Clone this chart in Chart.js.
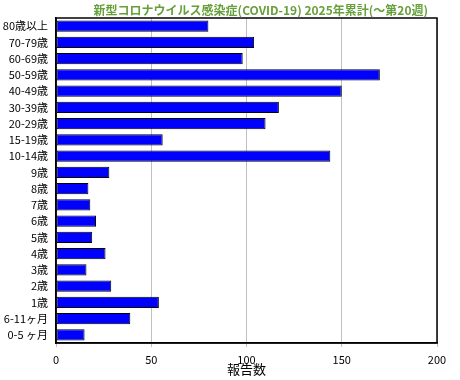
<!DOCTYPE html>
<html>
<head>
<meta charset="utf-8">
<script src="https://cdn.jsdelivr.net/npm/chart.js@4"></script>
<style>
html,body{margin:0;padding:0;background:#fff;}
#wrap{width:460px;height:380px;position:relative;}
</style>
</head>
<body>
<div id="wrap"><canvas id="c" width="460" height="380"></canvas></div>
<script>
const categories = ["80歳以上","70-79歳","60-69歳","50-59歳","40-49歳","30-39歳","20-29歳","15-19歳","10-14歳","9歳","8歳","7歳","6歳","5歳","4歳","3歳","2歳","1歳","6-11ヶ月","0-5 ヶ月"];
const reports = [80,104,98,170,150,117,110,56,144,28,17,18,21,19,26,16,29,54,39,15];
const xTicks = [0,50,100,150,200];
const titleText = "新型コロナウイルス感染症(COVID-19) 2025年累計(～第20週)";
const xTitle = "報告数";

const FONT = "'Noto Sans CJK JP', 'DejaVu Sans', sans-serif";

const frame = {
  id: 'frame',
  afterDatasetsDraw(chart) {
    const a = chart.chartArea, ctx = chart.ctx;
    ctx.save();
    ctx.strokeStyle = '#000';
    ctx.lineWidth = 1.5;
    ctx.strokeRect(a.left, a.top, a.right - a.left, a.bottom - a.top);
    ctx.restore();
  }
};

const topTitle = {
  id: 'topTitle',
  afterDraw(chart) {
    const ctx = chart.ctx;
    ctx.save();
    ctx.fillStyle = '#66a03a';
    ctx.font = "bold 12px " + FONT;
    ctx.textAlign = 'right';
    ctx.textBaseline = 'middle';
    ctx.fillText(titleText, 428, 10);
    ctx.restore();
  }
};

new Chart(document.getElementById('c'), {
  type: 'bar',
  data: {
    labels: categories,
    datasets: [{
      data: reports,
      backgroundColor: '#0000ff',
      borderColor: '#000000',
      borderWidth: 1,
      borderSkipped: false,
      barPercentage: 0.7,
      categoryPercentage: 1.0
    }]
  },
  options: {
    indexAxis: 'y',
    responsive: false,
    animation: false,
    devicePixelRatio: 1,
    layout: { padding: { left: 0, right: 23, top: 18, bottom: 0 } },
    plugins: {
      legend: { display: false },
      tooltip: { enabled: false },
      title: { display: false }
    },
    scales: {
      x: {
        min: 0, max: 200,
        afterBuildTicks(scale) { scale.ticks = xTicks.map(v => ({ value: v })); },
        afterFit(scale) { scale.height = 37; },
        grid: { color: '#c0c0c0', lineWidth: 1, tickLength: 4, drawTicks: true },
        border: { color: '#000', width: 1.5 },
        ticks: { color: '#000', font: { family: FONT, size: 11 }, padding: 6, maxRotation: 0 },
        title: { display: true, text: xTitle, color: '#000', font: { family: FONT, size: 13 }, padding: { top: 0, bottom: 3 } }
      },
      y: {
        grid: { display: false, drawTicks: false },
        border: { color: '#000', width: 1.5 },
        ticks: { color: '#000', font: { family: FONT, size: 11 }, padding: 8, autoSkip: false },
        afterFit(scale) { scale.width = 56; }
      }
    }
  },
  plugins: [frame, topTitle]
});
</script>
</body>
</html>
